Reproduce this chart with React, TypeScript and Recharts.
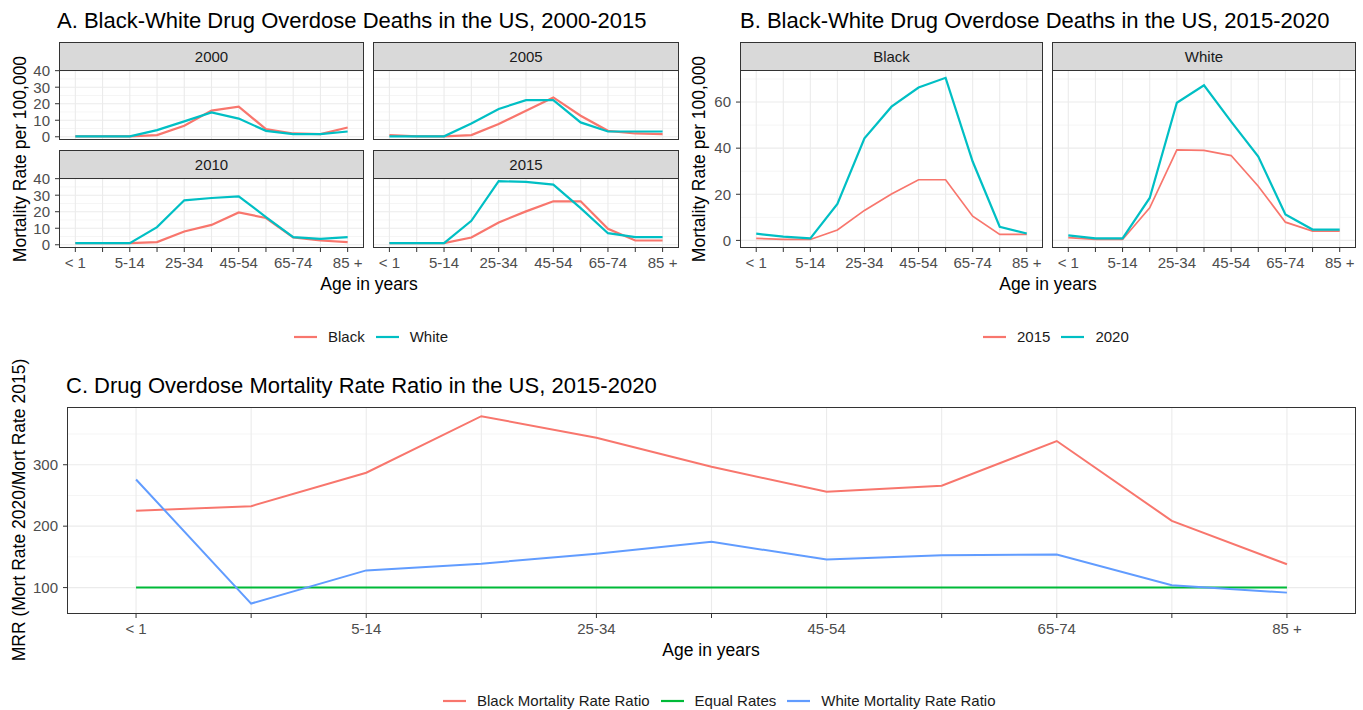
import { LineChart, Line, XAxis, YAxis, CartesianGrid } from 'recharts';

const ageGroups = ['< 1', '1-4', '5-14', '15-24', '25-34', '35-44', '45-54', '55-64', '65-74', '75-84', '85 +'];
const shownAges = ['< 1', '5-14', '25-34', '45-54', '65-74', '85 +'];

// A. mortality rate per 100,000 by race, 2000-2015
const black2000 = [0.3, 0.3, 0.3, 1, 6.7, 15.8, 18.2, 4.6, 2, 1.6, 5.6];
const white2000 = [0.3, 0.3, 0.3, 4, 9.3, 14.7, 11, 3.6, 1.6, 1.6, 3.2];
const black2005 = [1, 0.3, 0.3, 1, 7.7, 15.8, 23.8, 12.7, 3.6, 2, 1.6];
const white2005 = [0.3, 0.3, 0.3, 8, 16.8, 22.2, 22.2, 8.7, 3.2, 3.2, 3.2];
const black2010 = [1, 1, 1, 1.6, 8, 12, 19.6, 16.2, 4.4, 2.6, 1.6];
const white2010 = [1, 1, 1, 10.7, 26.9, 28.3, 29.3, 16.8, 4.6, 3.6, 4.6];
const black2015 = [1, 1, 1, 4.4, 13.5, 20.2, 26.3, 26.3, 9.7, 2.6, 2.6];
const white2015 = [1, 1, 1, 14.5, 38.5, 38, 36.4, 22.2, 7, 4.6, 4.6];

// B. 2015 vs 2020
const blackRate2015 = [0.9, 0.4, 0.4, 4.5, 13, 20.1, 26.3, 26.3, 10.5, 2.6, 2.6];
const blackRate2020 = [2.9, 1.6, 0.9, 15.8, 44.3, 58, 66.3, 70.5, 34.2, 5.9, 3];
const whiteRate2015 = [1.2, 0.4, 0.4, 14.1, 39.3, 39, 36.8, 23.5, 7.9, 4, 4];
const whiteRate2020 = [2.2, 0.9, 0.9, 18.4, 59.7, 67.3, 51.5, 36.4, 11.2, 4.7, 4.7];

// C. rate ratio (x100)
const blackRatio = [225, 232.6, 287, 379, 344, 296.7, 256, 265.8, 338.6, 208.7, 138];
const equalRates = [100, 100, 100, 100, 100, 100, 100, 100, 100, 100, 100];
const whiteRatio = [276, 74, 128, 139, 155, 174.5, 145.7, 152.7, 153.8, 103.8, 91.8];

const RED = '#F8766D';
const CYAN = '#00BFC4';
const GREEN = '#00BA38';
const BLUE = '#619CFF';
const FONT = '"Liberation Sans", Arial, Helvetica, sans-serif';

const ageIdx = ageGroups.map((_, i) => i);
const ageTick = (i: number) => (shownAges.includes(ageGroups[i]) ? ageGroups[i] : '');

function toRows(cols: Record<string, number[]>) {
  return ageGroups.map((age, i) => {
    const row: Record<string, any> = { i, age };
    for (const k in cols) row[k] = cols[k][i];
    return row;
  });
}

type Box = { x: number; y: number; w: number; h: number };
type Series = { key: string; color: string; width: number };

const Y_AXIS_W = 50;
const X_AXIS_H = 32;
const PAD_R = 14;
const PAD_V = 10;
const STRIP_H = 29;

function Facet(props: {
  data: any[];
  series: Series[];
  box: Box;
  domain: [number, number];
  major: number[];
  minor: number[];
  showX: boolean;
  showY: boolean;
  strip?: string;
}) {
  const { data, series, box, domain, major, minor, showX, showY, strip } = props;
  const yw = showY ? Y_AXIS_W : 0;
  const xh = showX ? X_AXIS_H : 0;
  return (
    <>
      <div style={{ position: 'absolute', left: box.x - yw, top: box.y - PAD_V }}>
        <LineChart width={yw + box.w + PAD_R} height={box.h + xh + 2 * PAD_V} data={data}
          margin={{ top: PAD_V, right: PAD_R, bottom: PAD_V, left: 0 }}>
          <CartesianGrid horizontalValues={minor} vertical={false} stroke="#F2F2F2" strokeWidth={0.8} />
          <CartesianGrid horizontalValues={major} verticalValues={ageIdx} stroke="#EBEBEB" strokeWidth={1.1} />
          <XAxis
            dataKey="i" type="number" domain={[-0.6, 10.6]} ticks={ageIdx} interval={0} allowDataOverflow
            hide={!showX} height={xh} axisLine={false} tickLine={{ stroke: '#333' }} tickSize={4} tickMargin={5}
            tick={{ fill: '#4D4D4D', fontSize: 15 }} tickFormatter={ageTick}
          />
          <YAxis
            type="number" domain={domain} ticks={major} interval={0} allowDataOverflow
            hide={!showY} width={yw} axisLine={false} tickLine={{ stroke: '#333' }} tickSize={4} tickMargin={5}
            tick={{ fill: '#4D4D4D', fontSize: 15 }}
          />
          {series.map((s) => (
            <Line key={s.key} type="linear" dataKey={s.key} stroke={s.color} strokeWidth={s.width}
              dot={false} activeDot={false} isAnimationActive={false} />
          ))}
        </LineChart>
      </div>
      {strip && (
        <div
          style={{
            position: 'absolute', left: box.x, top: box.y - STRIP_H + 1, width: box.w, height: STRIP_H,
            boxSizing: 'border-box', background: '#D9D9D9', border: '1px solid #333',
            display: 'flex', alignItems: 'center', justifyContent: 'center', fontSize: 15, color: '#1A1A1A',
          }}
        >
          {strip}
        </div>
      )}
      <div
        style={{
          position: 'absolute', left: box.x, top: box.y, width: box.w, height: box.h,
          boxSizing: 'border-box', border: '1px solid #333', pointerEvents: 'none',
        }}
      />
    </>
  );
}

function Title({ text, x, cy }: { text: string; x: number; cy: number }) {
  return (
    <div style={{ position: 'absolute', left: x, top: cy - 12.5, fontSize: 22, lineHeight: '25px', whiteSpace: 'nowrap', color: '#000' }}>
      {text}
    </div>
  );
}

function AxisTitle({ text, cx, cy, rotate }: { text: string; cx: number; cy: number; rotate?: boolean }) {
  return (
    <div
      style={{
        position: 'absolute', left: cx - 250, top: cy - 11, width: 500, height: 22, lineHeight: '22px',
        textAlign: 'center', fontSize: 17.5, whiteSpace: 'nowrap', color: '#000',
        transform: rotate ? 'rotate(-90deg)' : undefined,
      }}
    >
      {text}
    </div>
  );
}

function KeyLegend({ items, left, cy }: { items: { label: string; color: string }[]; left: number; cy: number }) {
  return (
    <div style={{ position: 'absolute', left, top: cy - 10, height: 20, display: 'flex', alignItems: 'center', fontSize: 15, whiteSpace: 'nowrap', color: '#1A1A1A' }}>
      {items.map((it) => (
        <div key={it.label} style={{ display: 'flex', alignItems: 'center', marginRight: 11 }}>
          <svg width={23} height={20}>
            <line x1={0} x2={23} y1={10} y2={10} stroke={it.color} strokeWidth={2.2} />
          </svg>
          <span style={{ marginLeft: 11, lineHeight: '20px' }}>{it.label}</span>
        </div>
      ))}
    </div>
  );
}

const raceSeries: Series[] = [
  { key: 'Black', color: RED, width: 2.2 },
  { key: 'White', color: CYAN, width: 2.2 },
];
const yearSeries: Series[] = [
  { key: 'y2015', color: RED, width: 1.7 },
  { key: 'y2020', color: CYAN, width: 2.2 },
];
const ratioSeries: Series[] = [
  { key: 'blackRatio', color: RED, width: 2 },
  { key: 'equal', color: GREEN, width: 2 },
  { key: 'whiteRatio', color: BLUE, width: 2 },
];

const domA: [number, number] = [-1.95, 40.4];
const majorA = [0, 10, 20, 30, 40];
const minorA = [5, 15, 25, 35];
const domB: [number, number] = [-3.3, 73.9];
const majorB = [0, 20, 40, 60];
const minorB = [10, 30, 50, 70];
const domC: [number, number] = [57, 394];
const majorC = [100, 200, 300];
const minorC = [150, 250, 350];

export default function App() {
  return (
    <div style={{ position: 'absolute', left: 0, top: 0, width: 1363, height: 710, background: '#fff', overflow: 'hidden', fontFamily: FONT }}>
      <Title text="A. Black-White Drug Overdose Deaths in the US, 2000-2015" x={57} cy={20.5} />
      <Facet data={toRows({ Black: black2000, White: white2000 })} series={raceSeries} box={{ x: 59, y: 70, w: 305, h: 70 }}
        domain={domA} major={majorA} minor={minorA} showX={false} showY strip="2000" />
      <Facet data={toRows({ Black: black2005, White: white2005 })} series={raceSeries} box={{ x: 373, y: 70, w: 306, h: 70 }}
        domain={domA} major={majorA} minor={minorA} showX={false} showY={false} strip="2005" />
      <Facet data={toRows({ Black: black2010, White: white2010 })} series={raceSeries} box={{ x: 59, y: 178, w: 305, h: 70 }}
        domain={domA} major={majorA} minor={minorA} showX showY strip="2010" />
      <Facet data={toRows({ Black: black2015, White: white2015 })} series={raceSeries} box={{ x: 373, y: 178, w: 306, h: 70 }}
        domain={domA} major={majorA} minor={minorA} showX showY={false} strip="2015" />
      <AxisTitle text="Mortality Rate per 100,000" cx={19.5} cy={159} rotate />
      <AxisTitle text="Age in years" cx={369} cy={284} />
      <KeyLegend left={294} cy={337} items={[{ label: 'Black', color: RED }, { label: 'White', color: CYAN }]} />

      <Title text="B. Black-White Drug Overdose Deaths in the US, 2015-2020" x={740} cy={20.5} />
      <Facet data={toRows({ y2015: blackRate2015, y2020: blackRate2020 })} series={yearSeries} box={{ x: 740, y: 70, w: 303, h: 178 }}
        domain={domB} major={majorB} minor={minorB} showX showY strip="Black" />
      <Facet data={toRows({ y2015: whiteRate2015, y2020: whiteRate2020 })} series={yearSeries} box={{ x: 1052, y: 70, w: 304, h: 178 }}
        domain={domB} major={majorB} minor={minorB} showX showY={false} strip="White" />
      <AxisTitle text="Mortality Rate per 100,000" cx={699} cy={159} rotate />
      <AxisTitle text="Age in years" cx={1048} cy={284} />
      <KeyLegend left={983} cy={337} items={[{ label: '2015', color: RED }, { label: '2020', color: CYAN }]} />

      <Title text="C. Drug Overdose Mortality Rate Ratio in the US, 2015-2020" x={66} cy={385} />
      <Facet data={toRows({ blackRatio, equal: equalRates, whiteRatio })} series={ratioSeries} box={{ x: 67, y: 407, w: 1289, h: 207 }}
        domain={domC} major={majorC} minor={minorC} showX showY />
      <AxisTitle text="MRR (Mort Rate 2020/Mort Rate 2015)" cx={19} cy={510} rotate />
      <AxisTitle text="Age in years" cx={711} cy={650} />
      <KeyLegend left={443} cy={701} items={[
        { label: 'Black Mortality Rate Ratio', color: RED },
        { label: 'Equal Rates', color: GREEN },
        { label: 'White Mortality Rate Ratio', color: BLUE },
      ]} />
    </div>
  );
}
